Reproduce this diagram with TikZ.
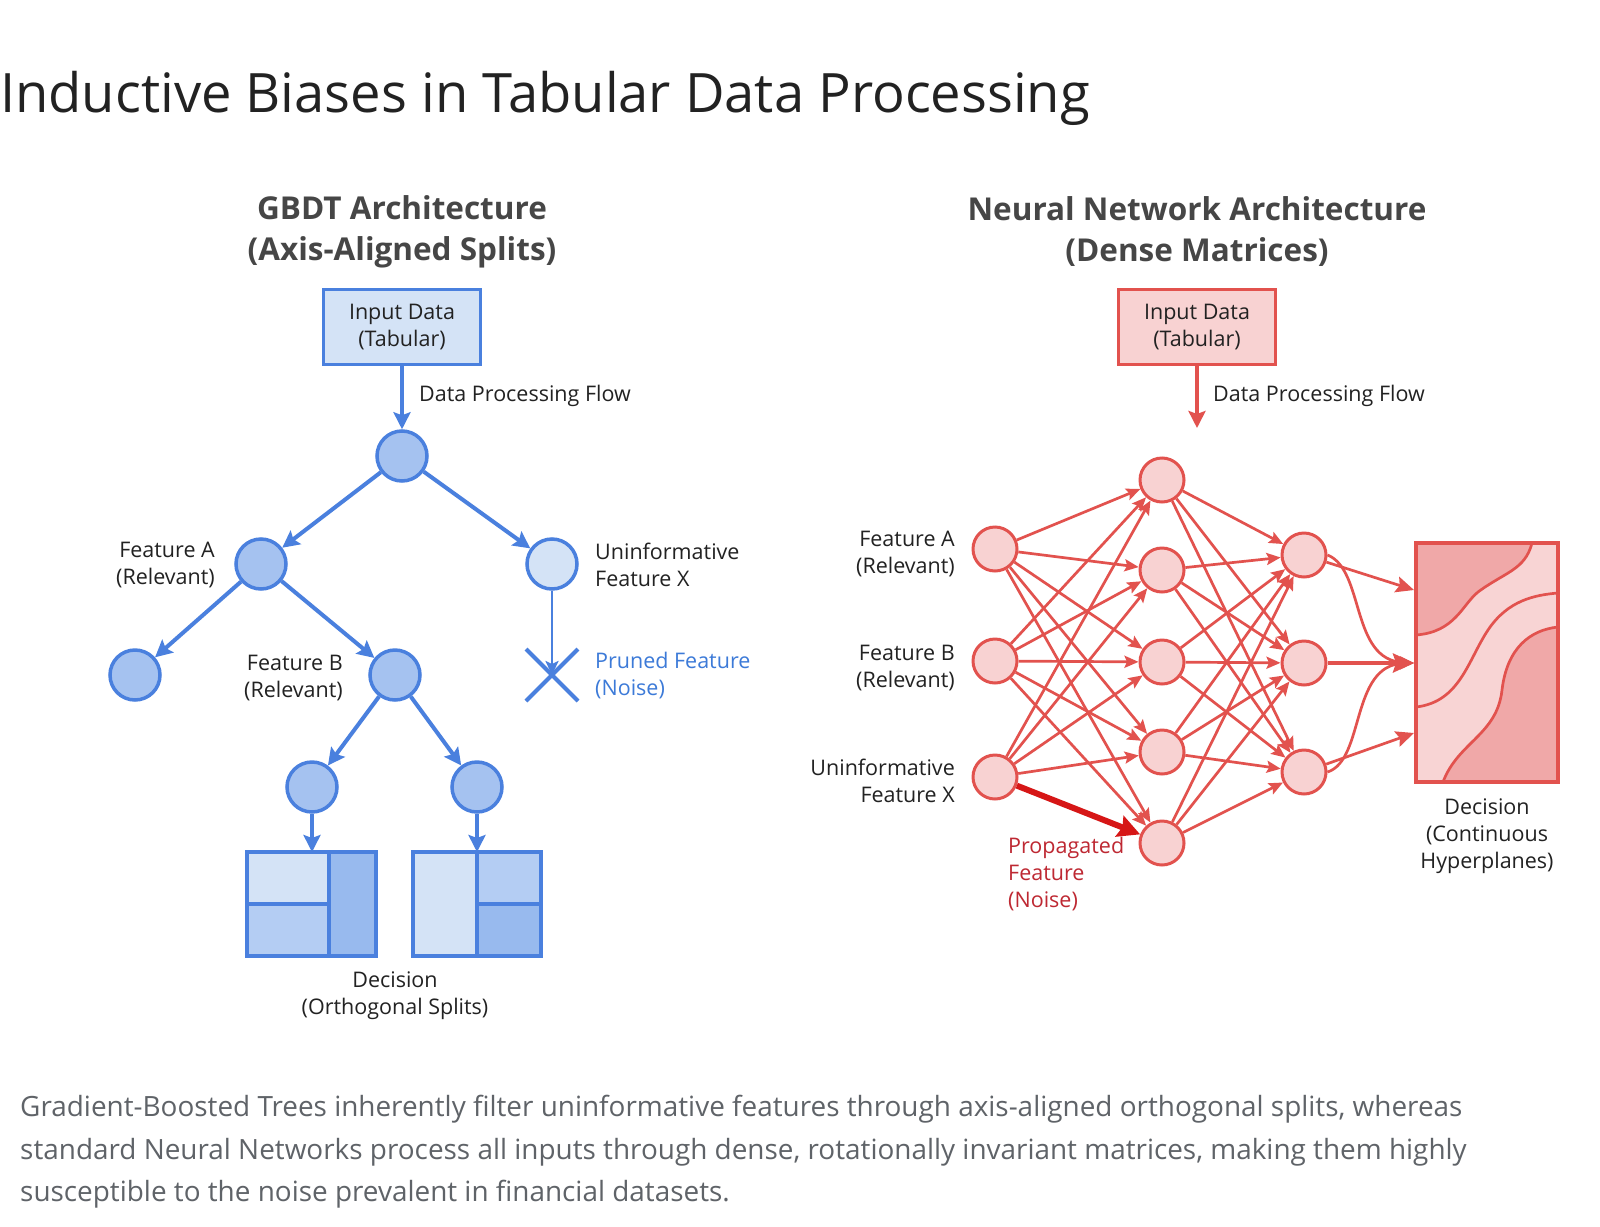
\documentclass[tikz,border=0pt]{standalone}
\usepackage{fontspec}
\setmainfont{Open Sans}
\usetikzlibrary{arrows.meta,calc}
\definecolor{bstroke}{RGB}{74,128,222}
\definecolor{bfill}{RGB}{165,194,240}
\definecolor{blight}{RGB}{212,227,246}
\definecolor{bmid}{RGB}{180,205,243}
\definecolor{bdark}{RGB}{152,186,238}
\definecolor{btext}{RGB}{60,122,216}
\definecolor{rstroke}{RGB}{226,82,78}
\definecolor{rfill}{RGB}{248,210,210}
\definecolor{rdark}{RGB}{240,168,168}
\definecolor{rlight}{RGB}{248,212,212}
\definecolor{rhot}{RGB}{214,22,22}
\definecolor{rtext}{RGB}{190,40,50}
\definecolor{txt}{RGB}{34,34,34}
\definecolor{sectxt}{RGB}{70,70,70}
\definecolor{captxt}{RGB}{95,99,104}
\tikzset{
  lbl/.style={font=\fontsize{21.5}{27}\selectfont, text=txt, inner sep=0pt},
  sect/.style={font=\fontsize{31.5}{41}\selectfont\bfseries, text=sectxt, inner sep=0pt, align=center},
  bbox/.style={draw=bstroke, fill=blight, line width=3.5pt, minimum width=157pt, minimum height=75pt, align=center, font=\fontsize{21.5}{27}\selectfont, text=txt, inner sep=0pt},
  rbox/.style={bbox, draw=rstroke, fill=rfill},
  bnode/.style={circle, draw=bstroke, fill=bfill, line width=3.5pt, minimum size=50pt, inner sep=0pt},
  bnodelight/.style={bnode, fill=blight},
  barrow/.style={draw=bstroke, line width=4pt, -{Stealth[length=17pt,width=17pt,inset=3pt]}},
  bthin/.style={draw=bstroke, line width=2.5pt, -{Stealth[length=14pt,width=13pt,inset=3pt]}},
  rnode/.style={circle, draw=rstroke, fill=rfill, line width=3pt, minimum size=44pt, inner sep=0pt},
  rarrow/.style={draw=rstroke, line width=2.7pt, -{Stealth[length=14pt,width=12pt,inset=2.5pt]}},
  rbig/.style={draw=rstroke, line width=4pt, -{Stealth[length=17pt,width=17pt,inset=3pt]}},
  rhotarrow/.style={draw=rhot, line width=6pt, -{Stealth[length=22pt,width=22pt,inset=3pt]}},
  captl/.style={anchor=base west, inner sep=0pt, font=\fontsize{27.9}{42}\selectfont, text=captxt},
}
\begin{document}
\begin{tikzpicture}[x=1pt,y=-1pt]
\useasboundingbox[fill=white] (0,0) rectangle (1600,1226);

% Main title
\node[anchor=base west, inner sep=0pt, font=\fontsize{54.3}{60}\selectfont, text=txt] (title) at (0,112) {Inductive Biases in Tabular Data Processing};

% ================= GBDT =================
\node[sect] (gtitle) at (402,231.5) {GBDT Architecture\\(Axis-Aligned Splits)};
\node[bbox] (gin) at (402,327) {Input Data\\(Tabular)};
\node[bnode] (r) at (402,456) {};
\node[bnode] (fa) at (261,564) {};
\node[bnodelight] (ux) at (552,564) {};
\node[bnode] (l1) at (135,675) {};
\node[bnode] (fb) at (395,675) {};
\node[bnode] (l2) at (312,787) {};
\node[bnode] (l3) at (477,787) {};
\coordinate (xc) at (552,675);
\coordinate (dlt) at (312,852);
\coordinate (drt) at (477,852);

\draw[barrow] (gin) -- (r);
\draw[barrow] (r) -- (fa);
\draw[barrow] (r) -- (ux);
\draw[barrow] (fa) -- (l1);
\draw[barrow] (fa) -- (fb);
\draw[barrow] (fb) -- (l2);
\draw[barrow] (fb) -- (l3);
\draw[barrow] (l2) -- (dlt);
\draw[barrow] (l3) -- (drt);
\draw[bthin] (ux) -- (xc);
\draw[bstroke, line width=4pt] ($(xc)+(-26,-26)$) -- ($(xc)+(26,26)$);
\draw[bstroke, line width=4pt] ($(xc)+(-26,26)$) -- ($(xc)+(26,-26)$);

\node[lbl, anchor=west] (gflow) at (419,396) {Data Processing Flow};
\node[lbl, anchor=east, align=right] (lfa) at (215,565) {Feature A\\(Relevant)};
\node[lbl, anchor=west, align=left] (lux) at (595,565) {Uninformative\\Feature X};
\node[lbl, anchor=east, align=right] (lfb) at (343,678) {Feature B\\(Relevant)};
\node[lbl, anchor=west, align=left, text=btext] (lpr) at (595,676) {Pruned Feature\\(Noise)};
\node[lbl, align=center] (ldec) at (395,996) {Decision\\(Orthogonal Splits)};

% decision boxes (blue)
\fill[blight] (247,852) rectangle (329,904);
\fill[bmid] (247,904) rectangle (329,956);
\fill[bdark] (329,852) rectangle (376,956);
\draw[bstroke, line width=3.5pt] (247,904) -- (329,904) (329,852) -- (329,956);
\draw[bstroke, line width=3.5pt] (247,852) rectangle (376,956);
\fill[blight] (413,852) rectangle (477,956);
\fill[bmid] (477,852) rectangle (541,904);
\fill[bdark] (477,904) rectangle (541,956);
\draw[bstroke, line width=3.5pt] (477,904) -- (541,904) (477,852) -- (477,956);
\draw[bstroke, line width=3.5pt] (413,852) rectangle (541,956);

% ================= NN =================
\node[sect] (ntitle) at (1197,231.5) {Neural Network Architecture\\(Dense Matrices)};
\node[rbox] (nin) at (1197,327) {Input Data\\(Tabular)};
\coordinate (nflowend) at (1197,428);
\draw[rbig] (nin) -- (nflowend);
\node[lbl, anchor=west] (nflow) at (1213,396) {Data Processing Flow};

\node[rnode] (i1) at (995,549) {};
\node[rnode] (i2) at (995,661) {};
\node[rnode] (i3) at (995,777) {};
\node[rnode] (h1) at (1162,480) {};
\node[rnode] (h2) at (1162,570) {};
\node[rnode] (h3) at (1162,662) {};
\node[rnode] (h4) at (1162,752) {};
\node[rnode] (h5) at (1162,843) {};
\node[rnode] (o1) at (1304,555) {};
\node[rnode] (o2) at (1304,663) {};
\node[rnode] (o3) at (1304,772) {};

\foreach \j in {1,...,5}{
  \draw[rarrow] (i1) -- (h\j);
  \draw[rarrow] (i2) -- (h\j);
}
\foreach \j in {1,...,4}{
  \draw[rarrow] (i3) -- (h\j);
}
\foreach \j in {1,...,5}{
  \foreach \k in {1,2,3}{
    \draw[rarrow] (h\j) -- (o\k);
  }
}
\draw[rhotarrow] (i3) -- (h5);

% decision box (red)
\fill[rdark] (1416,543) rectangle (1558,782);
\fill[rlight] (1416,635) .. controls (1455,632) and (1462,605) .. (1478,592) .. controls (1505,572) and (1525,570) .. (1532,543)
  -- (1558,543) -- (1558,627) .. controls (1530,630) and (1507,648) .. (1502,690) .. controls (1497,735) and (1458,742) .. (1443,782)
  -- (1416,782) -- cycle;
\draw[rstroke, line width=2.7pt] (1416,635) .. controls (1455,632) and (1462,605) .. (1478,592) .. controls (1505,572) and (1525,570) .. (1532,543);
\draw[rstroke, line width=2.7pt] (1416,707) .. controls (1460,702) and (1468,660) .. (1488,630) .. controls (1508,600) and (1535,595) .. (1558,593);
\draw[rstroke, line width=2.7pt] (1558,627) .. controls (1530,630) and (1507,648) .. (1502,690) .. controls (1497,735) and (1458,742) .. (1443,782);
\draw[rstroke, line width=3.2pt] (1416,543) rectangle (1558,782);
\coordinate (da) at (1414,590);
\coordinate (db) at (1414,663);
\coordinate (dc) at (1414,733);

\draw[rarrow, -{Stealth[length=18pt,width=16pt,inset=3pt]}] (o1) -- (da);
\draw[rarrow] (o1.east) .. controls (1365,570) and (1350,660) .. (db);
\draw[rarrow] (o3.east) .. controls (1365,760) and (1350,665) .. (db);
\draw[rarrow, line width=4pt, -{Stealth[length=21pt,width=19pt,inset=3pt]}] (o2) -- (db);
\draw[rarrow, -{Stealth[length=18pt,width=16pt,inset=3pt]}] (o3) -- (dc);

\node[lbl, anchor=east, align=right] (lia) at (955,554) {Feature A\\(Relevant)};
\node[lbl, anchor=east, align=right] (lib) at (955,668) {Feature B\\(Relevant)};
\node[lbl, anchor=east, align=right] (lix) at (955,781) {Uninformative\\Feature X};
\node[lbl, anchor=west, align=left, text=rtext] (lprop) at (1008,874) {Propagated\\Feature\\(Noise)};
\node[lbl, align=center] (lndec) at (1487,836) {Decision\\(Continuous\\Hyperplanes)};

% caption
\node[captl] (cap1) at (20,1116) {Gradient-Boosted Trees inherently filter uninformative features through axis-aligned orthogonal splits, whereas};
\node[captl] (cap2) at (20,1159) {standard Neural Networks process all inputs through dense, rotationally invariant matrices, making them highly};
\node[captl] (cap3) at (20,1201) {susceptible to the noise prevalent in financial datasets.};
\end{tikzpicture}
\end{document}
